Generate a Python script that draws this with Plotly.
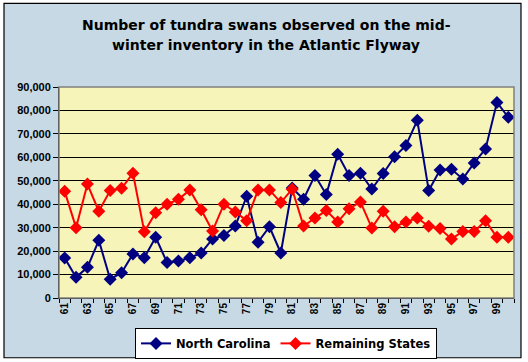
import plotly.graph_objects as go

years = list(range(61, 101))
north_carolina = [17100, 8800, 13100, 24600, 8000, 10800, 18800, 17200, 25900, 15100,
                  15800, 17200, 19200, 25200, 26700, 30700, 43400, 23800, 30400, 19200,
                  46900, 42100, 52300, 44100, 61300, 52300, 53200, 46500, 53100, 60200,
                  65100, 75800, 45900, 54600, 54900, 50800, 57600, 63600, 83400, 77100]
remaining_states = [45500, 30000, 48600, 37000, 45800, 46800, 53200, 28300, 36400, 40000,
                    42100, 46100, 37600, 28600, 40000, 36700, 33000, 46100, 46100, 40700,
                    46400, 30700, 34100, 37300, 32400, 38100, 41000, 29900, 37000, 30400,
                    32400, 34100, 30600, 29600, 25200, 28400, 28400, 32900, 25900, 25900]
x_tick_labels = [str(y) for y in range(61, 100, 2)]
y_ticks = list(range(0, 90001, 10000))

FONT = "DejaVu Sans, Liberation Sans, Arial, sans-serif"
TICKFONT = "Liberation Sans, Arial, sans-serif"
BG = "#C6D9E4"

fig = go.Figure()
fig.add_trace(go.Scatter(x=years, y=north_carolina, name="North Carolina", mode="lines+markers",
                         line=dict(color="#000080", width=2),
                         marker=dict(symbol="diamond", size=10, color="#000080")))
fig.add_trace(go.Scatter(x=years, y=remaining_states, name="Remaining States", mode="lines+markers",
                         line=dict(color="#FF0000", width=2),
                         marker=dict(symbol="diamond", size=10, color="#FF0000")))

L, R, T, B = 59, 14, 87.3, 64.3
W = 528 - L - R
H = 362 - T - B
def px_x(p):
    return (p - L) / W
def px_y(p):
    return (362 - B - p) / H

# white surroundings outside the chart frame
for (a, b, c, d) in [(-5, 4, -5, 367), (521, 533, -5, 367), (-5, 533, -5, 4), (-5, 533, 357.3, 367)]:
    fig.add_shape(type="rect", xref="paper", yref="paper", layer="above",
                  x0=px_x(a), x1=px_x(b), y0=px_y(d), y1=px_y(c),
                  fillcolor="white", line=dict(width=0))
# chart frame line
fig.add_shape(type="rect", xref="paper", yref="paper", layer="above",
              x0=px_x(4), x1=px_x(521), y0=px_y(357.3), y1=px_y(4),
              line=dict(color="black", width=1.2))
# plot area border
fig.add_shape(type="rect", xref="paper", yref="paper", layer="above",
              x0=0, x1=1, y0=0, y1=1, line=dict(color="#808080", width=1.5))

fig.add_annotation(text="<b>Number of tundra swans observed on the mid-</b>", xref="paper", yref="paper",
                   x=px_x(266), y=px_y(25), showarrow=False, xanchor="center", yanchor="middle",
                   font=dict(family=FONT, size=14, color="black"))
fig.add_annotation(text="<b>winter inventory in the Atlantic Flyway</b>", xref="paper", yref="paper",
                   x=px_x(266), y=px_y(45.5), showarrow=False, xanchor="center", yanchor="middle",
                   font=dict(family=FONT, size=14, color="black"))

fig.update_layout(
    width=528, height=362,
    margin=dict(l=L, r=R, t=T, b=B, autoexpand=False),
    paper_bgcolor=BG,
    plot_bgcolor="#F7F4B9",
    font=dict(family=FONT, color="black"),
    showlegend=True,
    legend=dict(orientation="h", x=px_x(286), xanchor="center", y=px_y(327.5), yanchor="top",
                bgcolor="white", bordercolor="black", borderwidth=1,
                font=dict(family=FONT, size=11.5, color="black", weight="bold"),
                itemwidth=30, tracegroupgap=0),
    xaxis=dict(range=[60.5, 100.5], tickmode="array", tickvals=list(range(61, 100, 2)),
               ticktext=x_tick_labels, tickangle=-90, ticks="", showgrid=False, zeroline=False,
               showline=True, linecolor="black", linewidth=1, automargin=False,
               tickfont=dict(family=TICKFONT, size=10, color="black", weight="bold"),
               minor=dict(tickmode="array", tickvals=[v + 0.5 for v in range(60, 101)],
                          ticks="outside", ticklen=4, tickcolor="black", showgrid=False)),
    yaxis=dict(range=[0, 90000], tickmode="array", tickvals=y_ticks, tickformat=",",
               ticks="outside", ticklen=5, tickcolor="black", showgrid=True, gridcolor="black",
               gridwidth=1, zeroline=False, showline=True, linecolor="black", linewidth=1,
               automargin=False,
               tickfont=dict(family=TICKFONT, size=11, color="black", weight="bold")),
)

fig.write_html("out.html", config={"displayModeBar": False},
               post_script="document.body.style.margin='0px';document.body.style.overflow='hidden';")
